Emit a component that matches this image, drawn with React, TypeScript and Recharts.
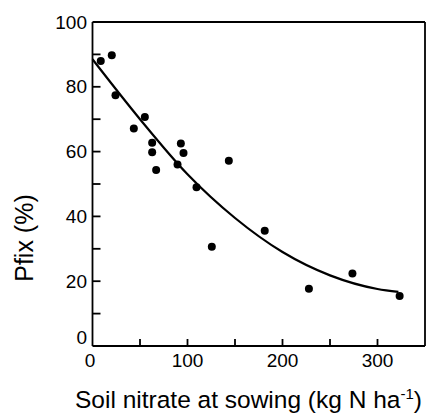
import { ComposedChart, Line, ReferenceLine, Scatter, XAxis, YAxis } from "recharts";

const nitrate = [8.7, 20.3, 24.2, 43.5, 55.1, 62.8, 62.8, 67, 89.5, 93, 95.8, 109.5, 125.6, 143.5, 181.3, 227.8, 273.6, 323.3];
const pfix = [88.0, 89.7, 77.4, 67.1, 70.7, 62.7, 59.8, 54.3, 56.0, 62.5, 59.6, 49.0, 30.6, 57.2, 35.6, 17.7, 22.4, 15.4];

// fitted curve
const fitX = [0, 50, 100, 150, 200, 250, 300, 322];
const fitY = [88.5, 70, 53, 39.5, 29, 21.8, 17.6, 16.7];

const xTicks = [0, 50, 100, 150, 200, 250, 300];
const yTicks = [0, 10, 20, 30, 40, 50, 60, 70, 80, 90, 100];

const points = nitrate.map((x, i) => ({ x, y: pfix[i] }));
const curve = fitX.map((x, i) => ({ x, y: fitY[i] }));

const FONT = "'Liberation Sans', Arial, Helvetica, sans-serif";

const XTick = (props: any) => {
  const { x, y, payload } = props;
  const v = payload.value;
  return (
    <g>
      {v > 0 && <line x1={x} x2={x} y1={y} y2={y - 7} stroke="#000" strokeWidth={1.8} />}
      {v % 100 === 0 && (
        <text x={v === 0 ? x - 2.5 : x} y={y + 20.5} textAnchor="middle" fontSize={19} fontFamily={FONT} fill="#000">
          {v}
        </text>
      )}
    </g>
  );
};

const YTick = (props: any) => {
  const { x, y, payload } = props;
  const v = payload.value;
  return (
    <g>
      {v > 0 && v < 100 && <line x1={x} x2={x + 8} y1={y} y2={y} stroke="#000" strokeWidth={1.8} />}
      {v % 20 === 0 && (
        <text x={x - 5.5} y={v === 0 ? y - 2.5 : y + 6.5} textAnchor="end" fontSize={19} fontFamily={FONT} fill="#000">
          {v}
        </text>
      )}
    </g>
  );
};

export default function App() {
  return (
    <div style={{ position: "absolute", left: 0, top: 0, background: "#fff" }}>
      <ComposedChart width={427} height={414} margin={{ top: 22, right: 2, bottom: 0, left: 0 }}>
        <XAxis
          type="number"
          dataKey="x"
          domain={[0, 350]}
          ticks={xTicks}
          interval={0}
          height={68}
          tickSize={0}
          tickMargin={0}
          tickLine={false}
          axisLine={{ stroke: "#000", strokeWidth: 1.8 }}
          tick={<XTick />}
          label={{
            content: (p: any) => {
              const vb = p.viewBox;
              return (
                <text x={vb.x + 156} y={vb.y + 62} textAnchor="middle" fontSize={24.5} fontFamily={FONT} fill="#000">
                  <tspan>Soil nitrate at sowing (kg N ha</tspan>
                  <tspan dy={-9} fontSize={15}>-1</tspan>
                  <tspan dy={9}>)</tspan>
                </text>
              );
            },
          }}
        />
        <YAxis
          type="number"
          dataKey="y"
          domain={[0, 100]}
          ticks={yTicks}
          interval={0}
          width={92.5}
          tickSize={0}
          tickMargin={0}
          tickLine={false}
          axisLine={{ stroke: "#000", strokeWidth: 1.8 }}
          tick={<YTick />}
          label={{
            content: () => (
              <text
                x={24}
                y={238}
                transform="rotate(-90, 24, 238)"
                textAnchor="middle"
                dominantBaseline="central"
                fontSize={25}
                fontFamily={FONT}
                fill="#000"
              >
                Pfix (%)
              </text>
            ),
          }}
        />
        <ReferenceLine y={100} stroke="#000" strokeWidth={1.8} />
        <ReferenceLine x={350} stroke="#000" strokeWidth={1.8} />
        <Line
          data={curve}
          dataKey="y"
          type="monotone"
          stroke="#000"
          strokeWidth={2.2}
          dot={false}
          activeDot={false}
          isAnimationActive={false}
        />
        <Scatter
          data={points}
          dataKey="y"
          fill="#000"
          shape={(p: any) => <circle cx={p.cx} cy={p.cy} r={4} fill="#000" />}
          isAnimationActive={false}
        />
      </ComposedChart>
    </div>
  );
}
